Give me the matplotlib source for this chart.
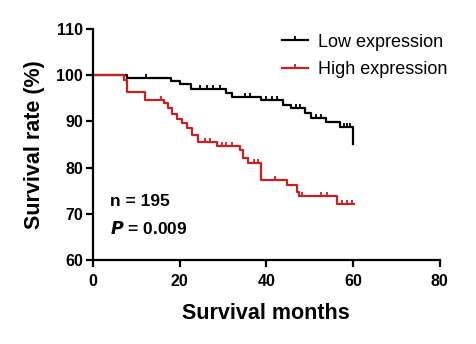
import numpy as np
import matplotlib.pyplot as plt
from matplotlib.path import Path
from matplotlib.lines import Line2D

# Kaplan-Meier steps
low_t = [0, 7.8, 18.1, 20.0, 22.6, 30.6, 32.2, 38.8, 43.8, 45.8, 49.0, 50.2, 53.7, 57.0, 60.0]
low_s = [100, 99.4, 98.7, 98.0, 97.1, 96.2, 95.2, 94.6, 93.6, 92.8, 91.8, 90.8, 89.8, 88.8, 85.0]
low_cens = [12.3, 24.8, 26.3, 27.8, 29.3, 35.1, 36.3, 40.0, 41.2, 42.4, 46.8, 47.8, 51.5, 52.5, 57.8, 58.5, 59.3]

high_t = [0, 7.1, 7.8, 12.0, 16.4, 17.4, 18.2, 19.3, 20.5, 21.6, 22.8, 24.3, 28.7, 33.9, 34.7,
          35.8, 38.8, 44.7, 47.0, 47.6, 56.2, 60.3]
high_s = [100, 99.0, 96.3, 94.6, 93.9, 92.8, 91.7, 90.6, 89.6, 88.5, 87.1, 85.6, 84.7, 83.8, 82.1,
          80.9, 77.4, 76.2, 74.8, 73.9, 72.1, 72.1]
high_cens = [15.8, 25.8, 27.0, 29.7, 30.8, 32.0, 37.2, 38.1, 42.0, 48.2, 52.7, 53.9, 57.4, 58.5, 59.7]

labels = ["Low expression", "High expression"]
colors = ["black", "#cc1f1f"]

plt.rcParams['font.family'] = ['Liberation Sans', 'DejaVu Sans']

fig = plt.figure(figsize=(4.76, 3.44), dpi=100)
ax = fig.add_axes([0.195, 0.244, 0.729, 0.672])

tick_marker = Path([[0, 0], [0, 1]])

def surv_at(t, ts, ss):
    i = np.searchsorted(ts, t, side='right') - 1
    return ss[i]

series = [(low_t, low_s, low_cens), (high_t, high_s, high_cens)]
for (ts, ss, cens), col in zip(series, colors):
    ax.step(ts, ss, where='post', color=col, lw=1.6)
    cy = [surv_at(c, ts, ss) for c in cens]
    ax.plot(cens, cy, ls='none', marker=tick_marker, ms=6, mew=1.3, color=col)

handles = [Line2D([0], [0], color=c, lw=1.6, marker=tick_marker, ms=6, mew=1.3) for c in colors]
ax.legend(handles, labels, loc='upper right', bbox_to_anchor=(1.07, 1.05), frameon=False,
          fontsize=13, handlelength=1.4, handletextpad=0.6, labelspacing=0.6, numpoints=1)

ax.text(4.0, 72.6, "n = 195", fontsize=12.5, fontweight='bold', va='center')
ax.text(4.0, 66.9, r"$\bfit{P}$ = 0.009", fontsize=12.5, fontweight='bold', va='center')

ax.set_xlim(0, 80)
ax.set_ylim(60, 110)
ax.set_xticks([0, 20, 40, 60, 80])
ax.set_yticks([60, 70, 80, 90, 100, 110])
for s in ['top', 'right']:
    ax.spines[s].set_visible(False)
for s in ['left', 'bottom']:
    ax.spines[s].set_linewidth(1.6)
ax.tick_params(width=1.6, length=5, labelsize=11.5, pad=2)
ax.tick_params(axis='x', pad=5)
for lab in ax.get_xticklabels() + ax.get_yticklabels():
    lab.set_fontweight('bold')
ax.set_xlabel("Survival months", fontsize=15.5, fontweight='bold', labelpad=10)
ax.set_ylabel("Survival rate (%)", fontsize=15.5, fontweight='bold', labelpad=8)

fig.savefig("out.png", dpi=100, facecolor='white')
